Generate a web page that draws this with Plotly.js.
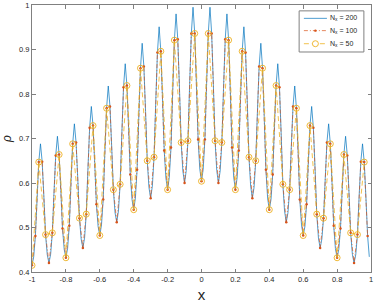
<!DOCTYPE html>
<html>
<head>
<meta charset="utf-8">
<script src="https://cdn.plot.ly/plotly-3.0.1.min.js"></script>
<style>
  html, body { margin: 0; padding: 0; background: #fff; }
  #plot { width: 374px; height: 305px; }
</style>
</head>
<body>
<div id="plot"></div>
<script>
const rho200 = [
  0.415, 0.434, 0.481, 0.568, 0.647, 0.688, 0.648, 0.570, 0.484, 0.439,
  0.420, 0.440, 0.488, 0.580, 0.662, 0.705, 0.664, 0.585, 0.498, 0.451,
  0.432, 0.453, 0.504, 0.601, 0.688, 0.733, 0.691, 0.610, 0.521, 0.474,
  0.454, 0.476, 0.530, 0.632, 0.724, 0.772, 0.729, 0.644, 0.552, 0.502,
  0.482, 0.506, 0.563, 0.670, 0.768, 0.818, 0.772, 0.683, 0.585, 0.533,
  0.512, 0.537, 0.597, 0.711, 0.815, 0.868, 0.819, 0.724, 0.619, 0.563,
  0.540, 0.566, 0.630, 0.749, 0.858, 0.914, 0.862, 0.761, 0.650, 0.590,
  0.566, 0.593, 0.658, 0.782, 0.893, 0.951, 0.896, 0.790, 0.673, 0.611,
  0.585, 0.613, 0.680, 0.806, 0.921, 0.980, 0.923, 0.813, 0.691, 0.627,
  0.600, 0.628, 0.695, 0.821, 0.936, 0.995, 0.936, 0.823, 0.698, 0.631,
  0.604, 0.631, 0.698, 0.823, 0.936, 0.995, 0.936, 0.821, 0.695, 0.628,
  0.600, 0.627, 0.691, 0.813, 0.923, 0.980, 0.921, 0.806, 0.680, 0.613,
  0.585, 0.611, 0.673, 0.790, 0.896, 0.951, 0.893, 0.782, 0.658, 0.593,
  0.566, 0.590, 0.650, 0.761, 0.862, 0.914, 0.858, 0.749, 0.630, 0.566,
  0.540, 0.563, 0.619, 0.724, 0.819, 0.868, 0.815, 0.711, 0.597, 0.537,
  0.512, 0.533, 0.585, 0.683, 0.772, 0.818, 0.768, 0.670, 0.563, 0.506,
  0.482, 0.502, 0.552, 0.644, 0.729, 0.772, 0.724, 0.632, 0.530, 0.476,
  0.454, 0.474, 0.521, 0.610, 0.691, 0.733, 0.688, 0.601, 0.504, 0.453,
  0.432, 0.451, 0.498, 0.585, 0.664, 0.705, 0.662, 0.580, 0.488, 0.440,
  0.420, 0.439, 0.484, 0.570, 0.648, 0.688, 0.647, 0.568, 0.481, 0.434
];

const rho100 = [
  0.415, 0.481, 0.647, 0.648, 0.484, 0.420, 0.488, 0.662, 0.664, 0.498,
  0.432, 0.504, 0.688, 0.691, 0.521, 0.454, 0.530, 0.724, 0.729, 0.552,
  0.482, 0.563, 0.768, 0.772, 0.585, 0.512, 0.597, 0.815, 0.819, 0.619,
  0.540, 0.630, 0.858, 0.862, 0.650, 0.566, 0.658, 0.893, 0.896, 0.673,
  0.585, 0.680, 0.921, 0.923, 0.691, 0.600, 0.695, 0.936, 0.936, 0.698,
  0.604, 0.698, 0.936, 0.936, 0.695, 0.600, 0.691, 0.923, 0.921, 0.680,
  0.585, 0.673, 0.896, 0.893, 0.658, 0.566, 0.650, 0.862, 0.858, 0.630,
  0.540, 0.619, 0.819, 0.815, 0.597, 0.512, 0.585, 0.772, 0.768, 0.563,
  0.482, 0.552, 0.729, 0.724, 0.530, 0.454, 0.521, 0.691, 0.688, 0.504,
  0.432, 0.498, 0.664, 0.662, 0.488, 0.420, 0.484, 0.648, 0.647, 0.481
];

const rho50 = [
  0.415, 0.647, 0.484, 0.488, 0.664, 0.432, 0.688, 0.521, 0.530, 0.729,
  0.482, 0.768, 0.585, 0.597, 0.819, 0.540, 0.858, 0.650, 0.658, 0.896,
  0.585, 0.921, 0.691, 0.695, 0.936, 0.604, 0.936, 0.695, 0.691, 0.921,
  0.585, 0.896, 0.658, 0.650, 0.858, 0.540, 0.819, 0.597, 0.585, 0.768,
  0.482, 0.729, 0.530, 0.521, 0.688, 0.432, 0.664, 0.488, 0.484, 0.647
];

const seriesNames = ['N<sub>x</sub> = 200', 'N<sub>x</sub> = 100', 'N<sub>x</sub> = 50'];
const seriesColors = ['#0072BD', '#D95319', '#EDB120'];
const xTicks = [-1, -0.8, -0.6, -0.4, -0.2, 0, 0.2, 0.4, 0.6, 0.8, 1];
const yTicks = [0.4, 0.5, 0.6, 0.7, 0.8, 0.9, 1];

function grid(vals) {
  const n = vals.length;
  return vals.map((_, i) => -1 + 2 * i / n);
}

const dashes = ['solid', '4px,2px,1px,2px', '5px,3px'];

const data = [
  {
    x: grid(rho200), y: rho200, name: seriesNames[0],
    type: 'scatter', mode: 'lines',
    line: { color: seriesColors[0], width: 0.7 }
  },
  {
    x: grid(rho100), y: rho100, name: seriesNames[1],
    type: 'scatter', mode: 'lines+markers',
    line: { color: seriesColors[1], width: 0.7, dash: dashes[1] },
    marker: { color: seriesColors[1], size: 2.5 }
  },
  {
    x: grid(rho50), y: rho50, name: seriesNames[2],
    type: 'scatter', mode: 'lines+markers',
    line: { color: seriesColors[2], width: 0.8, dash: dashes[2] },
    marker: { symbol: 'circle-open', color: seriesColors[2], size: 6, line: { width: 0.9 } }
  }
];

// hand-drawn MATLAB-style legend (paper coords)
const legX0 = 0.788, legX1 = 0.979, legY0 = 0.824, legY1 = 0.978;
const rowY = [0.950, 0.904, 0.855];
const shapes = [{
  type: 'rect', xref: 'paper', yref: 'paper',
  x0: legX0, x1: legX1, y0: legY0, y1: legY1,
  line: { color: '#808080', width: 1 }, fillcolor: '#fff', layer: 'above'
}];
const annotations = [];
rowY.forEach((yy, i) => {
  shapes.push({
    type: 'line', xref: 'paper', yref: 'paper',
    x0: 0.802, x1: 0.870, y0: yy, y1: yy,
    line: { color: seriesColors[i], width: i === 2 ? 0.8 : 0.7, dash: dashes[i] }, layer: 'above'
  });
  annotations.push({
    xref: 'paper', yref: 'paper', x: 0.874, y: yy,
    xanchor: 'left', yanchor: 'middle', showarrow: false,
    text: seriesNames[i], font: { size: 7, color: '#262626' }
  });
});
shapes.push({
  type: 'circle', xref: 'paper', yref: 'paper', xsizemode: 'pixel', ysizemode: 'pixel',
  xanchor: 0.836, yanchor: rowY[1], x0: -1.2, x1: 1.2, y0: -1.2, y1: 1.2,
  fillcolor: seriesColors[1], line: { width: 0 }, layer: 'above'
});
shapes.push({
  type: 'circle', xref: 'paper', yref: 'paper', xsizemode: 'pixel', ysizemode: 'pixel',
  xanchor: 0.836, yanchor: rowY[2], x0: -3, x1: 3, y0: -3, y1: 3,
  fillcolor: '#fff', line: { color: seriesColors[2], width: 0.9 }, layer: 'above'
});

const axisCommon = {
  showline: true, linecolor: '#808080', linewidth: 1, mirror: 'ticks',
  ticks: 'inside', ticklen: 3.5, tickcolor: '#808080', tickwidth: 1,
  showgrid: false, zeroline: false,
  tickfont: { family: 'Liberation Sans, Arial, sans-serif', size: 7.5, color: '#262626' }
};

Plotly.newPlot('plot', data, {
  width: 374, height: 305,
  margin: { l: 32, r: 3, t: 5, b: 33 },
  paper_bgcolor: '#fff', plot_bgcolor: '#fff',
  font: { family: 'Liberation Sans, Arial, sans-serif', color: '#262626' },
  xaxis: Object.assign({}, axisCommon, {
    range: [-1, 1], tickvals: xTicks, ticktext: xTicks.map(String),
    title: { text: 'x', font: { size: 15 }, standoff: 6 }
  }),
  yaxis: Object.assign({}, axisCommon, {
    range: [0.4, 1], tickvals: yTicks, ticktext: yTicks.map(String),
    title: { text: '<i>ρ</i>', font: { size: 12 }, standoff: 8 }
  }),
  showlegend: false,
  shapes: shapes,
  annotations: annotations
}, { displayModeBar: false, staticPlot: true });
</script>
</body>
</html>
